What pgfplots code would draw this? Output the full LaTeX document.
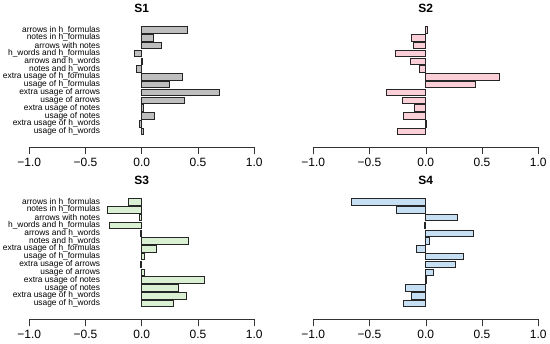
\documentclass[border=0pt]{standalone}
\usepackage{pgfplots}
\pgfplotsset{compat=1.18}
\usepackage{fontspec}
\setmainfont{Liberation Sans}
\definecolor{cS1}{HTML}{BEBEBE}
\definecolor{cS2}{HTML}{FBCFD8}
\definecolor{cS3}{HTML}{D9F0D3}
\definecolor{cS4}{HTML}{C6DFF2}
\tikzset{ttl/.style={font=\fontsize{12}{14}\selectfont\bfseries, anchor=center, inner sep=0pt, yshift=16.5pt}}
\begin{document}
\begin{tikzpicture}
\useasboundingbox (0pt,0pt) rectangle (550pt,344pt);
\pgfplotsset{
  panel/.style={
    scale only axis, width=225pt, height=122.2pt,
    xmin=-1, xmax=1, ymin=-1.05, ymax=14.6,
    axis x line*=bottom, axis y line*=left,
    y axis line style={draw=none},
    x axis line style={-, line width=0.6pt, draw=black!80},
    xtick={-1,-0.5,0,0.5,1},
    xticklabels={−1.0,−0.5,0.0,0.5,1.0},
    tick align=outside,
    major tick length=7pt,
    xtick style={line width=0.6pt, draw=black!80},
    ytick style={draw=none},
    xticklabel style={font=\fontsize{12}{14}\selectfont, inner sep=0pt, yshift=-3pt},
    ytick={1,...,14},
    yticklabels={},
    clip=false,
  },
  labs/.style={
    yticklabels={usage of h\_words, extra usage of h\_words, usage of notes, extra usage of notes, usage of arrows, extra usage of arrows, usage of h\_formulas, extra usage of h\_formulas, notes and h\_words, arrows and h\_words, h\_words and h\_formulas, arrows with notes, notes in h\_formulas, arrows in h\_formulas},
    yticklabel style={font=\fontsize{8.4}{9}\selectfont, anchor=east, inner sep=0pt, xshift=78pt},
  },
  bb/.style={xbar, bar width=0.83, draw=black!85, line width=0.8pt},
}
% S1
\begin{axis}[panel, labs, at={(29.3pt,196.5pt)}]
\addplot[bb, fill=cS1] coordinates {
(0.405,14) (0.10,13) (0.177,12) (-0.063,11) (0.003,10) (-0.05,9)
(0.363,8) (0.243,7) (0.69,6) (0.375,5) (0.01,4) (0.11,3) (-0.02,2) (0.012,1)};
\node[ttl] at (rel axis cs:0.5,1) {S1};
\end{axis}
% S2
\begin{axis}[panel, at={(313.3pt,196.5pt)}]
\addplot[bb, fill=cS2] coordinates {
(0.018,14) (-0.126,13) (-0.108,12) (-0.27,11) (-0.141,10) (-0.054,9)
(0.658,8) (0.444,7) (-0.348,6) (-0.21,5) (-0.105,4) (-0.198,3) (0.006,2) (-0.255,1)};
\node[ttl] at (rel axis cs:0.5,1) {S2};
\end{axis}
% S3
\begin{axis}[panel, labs, at={(29.3pt,24.5pt)}]
\addplot[bb, fill=cS3] coordinates {
(-0.117,14) (-0.31,13) (-0.018,12) (-0.285,11) (-0.015,10) (0.414,9)
(0.129,8) (0.021,7) (-0.012,6) (0.021,5) (0.56,4) (0.324,3) (0.393,2) (0.282,1)};
\node[ttl] at (rel axis cs:0.5,1) {S3};
\end{axis}
% S4
\begin{axis}[panel, at={(313.3pt,24.5pt)}]
\addplot[bb, fill=cS4] coordinates {
(-0.658,14) (-0.261,13) (0.282,12) (-0.012,11) (0.423,10) (0.036,9)
(-0.081,8) (0.33,7) (0.267,6) (0.066,5) (0.002,4) (-0.177,3) (-0.129,2) (-0.198,1)};
\node[ttl] at (rel axis cs:0.5,1) {S4};
\end{axis}
\end{tikzpicture}
\end{document}
